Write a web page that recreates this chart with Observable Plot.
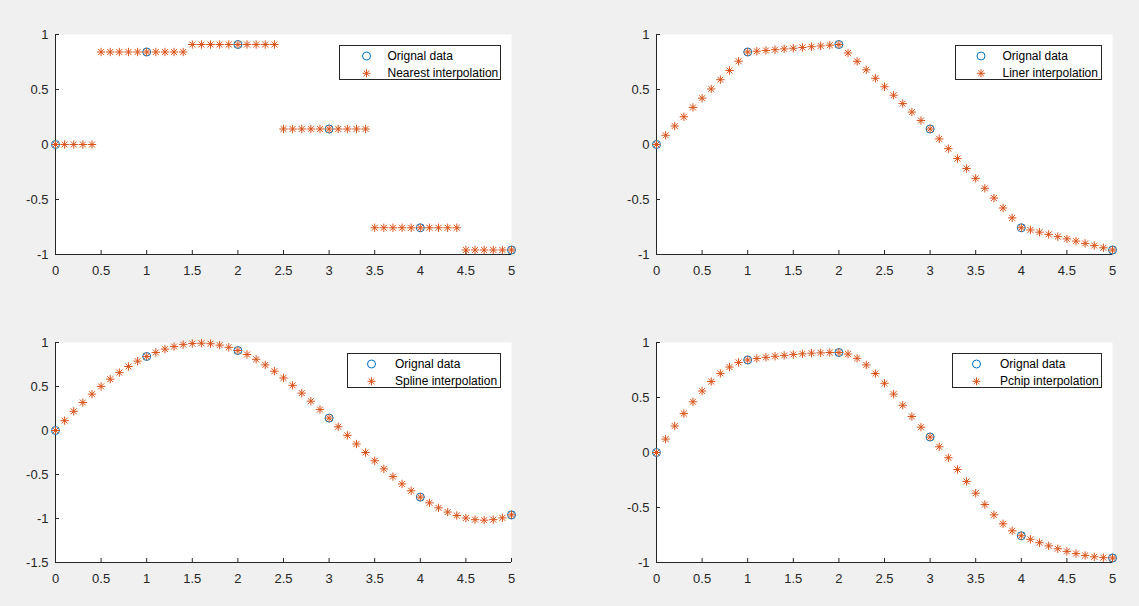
<!DOCTYPE html>
<html><head><meta charset="utf-8">
<script src="https://cdn.jsdelivr.net/npm/d3@7"></script>
<script src="https://cdn.jsdelivr.net/npm/@observablehq/plot@0.6"></script>
<style>
body{margin:0;background:#f0f0f0;}
#fig{position:relative;width:1139px;height:606px;background:#f0f0f0;overflow:hidden;font-family:"Liberation Sans",Arial,Helvetica,sans-serif;}
.panel{position:absolute;}
.legend{position:absolute;background:#fff;border:1px solid #262626;box-sizing:border-box;}
.legend span{position:absolute;font-size:12px;line-height:14px;color:#000;white-space:nowrap;}
.legend svg{position:absolute;left:0;top:0;overflow:visible;}
</style></head><body><div id="fig"></div>
<script>
// ---- data ----
const xOrig = [0, 1, 2, 3, 4, 5];
const yOrig = [0, 0.841, 0.909, 0.141, -0.757, -0.959];
const xq = [0,0.1,0.2,0.3,0.4,0.5,0.6,0.7,0.8,0.9,1,1.1,1.2,1.3,1.4,1.5,1.6,1.7,1.8,1.9,2,2.1,2.2,2.3,2.4,2.5,2.6,2.7,2.8,2.9,3,3.1,3.2,3.3,3.4,3.5,3.6,3.7,3.8,3.9,4,4.1,4.2,4.3,4.4,4.5,4.6,4.7,4.8,4.9,5];
const yNearest = [0,0,0,0,0,
  0.841,0.841,0.841,0.841,0.841,0.841,0.841,0.841,0.841,0.841,
  0.909,0.909,0.909,0.909,0.909,0.909,0.909,0.909,0.909,0.909,
  0.141,0.141,0.141,0.141,0.141,0.141,0.141,0.141,0.141,0.141,
  -0.757,-0.757,-0.757,-0.757,-0.757,-0.757,-0.757,-0.757,-0.757,-0.757,
  -0.959,-0.959,-0.959,-0.959,-0.959,-0.959];
const yLinear = [0,0.084,0.168,0.252,0.337,0.421,0.505,0.589,0.673,0.757,0.841,
  0.848,0.855,0.862,0.869,0.875,0.882,0.889,0.896,0.903,0.909,
  0.832,0.756,0.679,0.602,0.525,0.448,0.372,0.295,0.218,0.141,
  0.051,-0.038,-0.128,-0.218,-0.308,-0.398,-0.487,-0.577,-0.667,-0.757,
  -0.777,-0.797,-0.817,-0.838,-0.858,-0.878,-0.899,-0.919,-0.939,-0.959];
const ySpline = [0,0.112,0.218,0.318,0.413,0.501,0.583,0.658,0.727,0.788,0.841,
  0.887,0.925,0.955,0.976,0.988,0.992,0.986,0.970,0.945,0.909,
  0.864,0.809,0.745,0.674,0.597,0.513,0.425,0.333,0.238,0.141,
  0.043,-0.055,-0.153,-0.250,-0.344,-0.436,-0.524,-0.607,-0.685,-0.757,
  -0.822,-0.879,-0.927,-0.966,-0.995,-1.013,-1.019,-1.013,-0.993,-0.959];
const yPchip = [0,0.122,0.241,0.354,0.461,0.559,0.645,0.719,0.777,0.819,0.841,
  0.854,0.865,0.875,0.883,0.891,0.897,0.903,0.906,0.909,0.909,
  0.895,0.856,0.796,0.718,0.629,0.531,0.429,0.327,0.230,0.141,
  0.052,-0.048,-0.154,-0.263,-0.370,-0.473,-0.567,-0.648,-0.712,-0.757,
  -0.789,-0.820,-0.849,-0.875,-0.899,-0.919,-0.936,-0.948,-0.956,-0.959];
const xTicks = [0,0.5,1,1.5,2,2.5,3,3.5,4,4.5,5];
const yTicksA = [-1,-0.5,0,0.5,1];
const yTicksB = [-1.5,-1,-0.5,0,0.5,1];
const legendOrig = "Orignal data";
const legendLabels = ["Nearest interpolation","Liner interpolation","Spline interpolation","Pchip interpolation"];

// ---- styles / layout ----
const BLUE = "#0072BD", ORANGE = "#D95319", AX = "#262626";
const asterisk = {draw(ctx, size){
  const r = Math.sqrt(size/Math.PI), d = r*Math.SQRT1_2;
  ctx.moveTo(-r,0); ctx.lineTo(r,0);
  ctx.moveTo(0,-r); ctx.lineTo(0,r);
  ctx.moveTo(-d,-d); ctx.lineTo(d,d);
  ctx.moveTo(-d,d); ctx.lineTo(d,-d);
}};
const ML = 50, MR = 12, MT = 10, MB = 30, PW = 456, PH = 220, TICK = 4;
const panels = [
  {yq: yNearest, label: legendLabels[0], dom: [-1,1], ticks: yTicksA, left: 5,   top: 24,
   lg: {x:339, y:45, w:162, h:35, mx:26.5, tx:47.5}},
  {yq: yLinear,  label: legendLabels[1], dom: [-1,1], ticks: yTicksA, left: 606, top: 24,
   lg: {x:955, y:45, w:147, h:35, mx:25, tx:46.5}},
  {yq: ySpline,  label: legendLabels[2], dom: [-1.5,1], ticks: yTicksB, left: 5, top: 332,
   lg: {x:347, y:353, w:154, h:35, mx:23.5, tx:47}},
  {yq: yPchip,   label: legendLabels[3], dom: [-1,1], ticks: yTicksA, left: 606, top: 332,
   lg: {x:952, y:353, w:150, h:35, mx:23.5, tx:47}}
];
const fig = document.getElementById("fig");
const fmt = d => String(d);

for (const p of panels) {
  const orig = xOrig.map((x,i) => ({x, y: yOrig[i]}));
  const interp = xq.map((x,i) => ({x, y: p.yq[i]}));
  const chart = Plot.plot({
    width: ML + PW + MR, height: MT + PH + MB,
    marginLeft: ML, marginRight: MR, marginTop: MT, marginBottom: MB,
    style: {background: "transparent", fontFamily: '"Liberation Sans",Arial,Helvetica,sans-serif', fontSize: "13px", color: AX},
    x: {domain: [0,5], ticks: xTicks, tickFormat: fmt, tickSize: 0, tickPadding: 11, label: null},
    y: {domain: p.dom, ticks: p.ticks, tickFormat: fmt, tickSize: 0, tickPadding: 7, label: null},
    marks: [
      Plot.frame({fill: "white", stroke: "none"}),
      Plot.tickX(xTicks, {x: d => d, stroke: AX, insetTop: PH - TICK}),
      Plot.tickY(p.ticks, {y: d => d, stroke: AX, insetRight: PW - TICK}),
      Plot.ruleX([0], {stroke: AX}),
      Plot.ruleY([p.dom[0]], {stroke: AX}),
      Plot.dot(orig, {x: "x", y: "y", r: 4, stroke: BLUE, fill: "none", strokeWidth: 1}),
      Plot.dot(interp, {x: "x", y: "y", r: 4.2, symbol: asterisk, stroke: ORANGE, fill: "none", strokeWidth: 1})
    ]
  });
  chart.classList.add("panel");
  chart.style.left = p.left + "px";
  chart.style.top = p.top + "px";
  chart.style.overflow = "visible";
  fig.appendChild(chart);

  // legend
  const g = p.lg;
  const box = document.createElement("div");
  box.className = "legend";
  Object.assign(box.style, {left: g.x+"px", top: g.y+"px", width: g.w+"px", height: g.h+"px"});
  const r = 4, d = r*Math.SQRT1_2, cy1 = 10, cy2 = 27.3;
  box.innerHTML =
    `<svg width="${g.w}" height="${g.h}">
      <circle cx="${g.mx}" cy="${cy1}" r="${r}" fill="none" stroke="${BLUE}"/>
      <path transform="translate(${g.mx},${cy2})" fill="none" stroke="${ORANGE}"
        d="M${-r},0H${r}M0,${-r}V${r}M${-d},${-d}L${d},${d}M${-d},${d}L${d},${-d}"/>
    </svg>
    <span style="left:${g.tx}px;top:${cy1-7.5}px">${legendOrig}</span>
    <span style="left:${g.tx}px;top:${cy2-7.5}px">${p.label}</span>`;
  fig.appendChild(box);
}
</script></body></html>
